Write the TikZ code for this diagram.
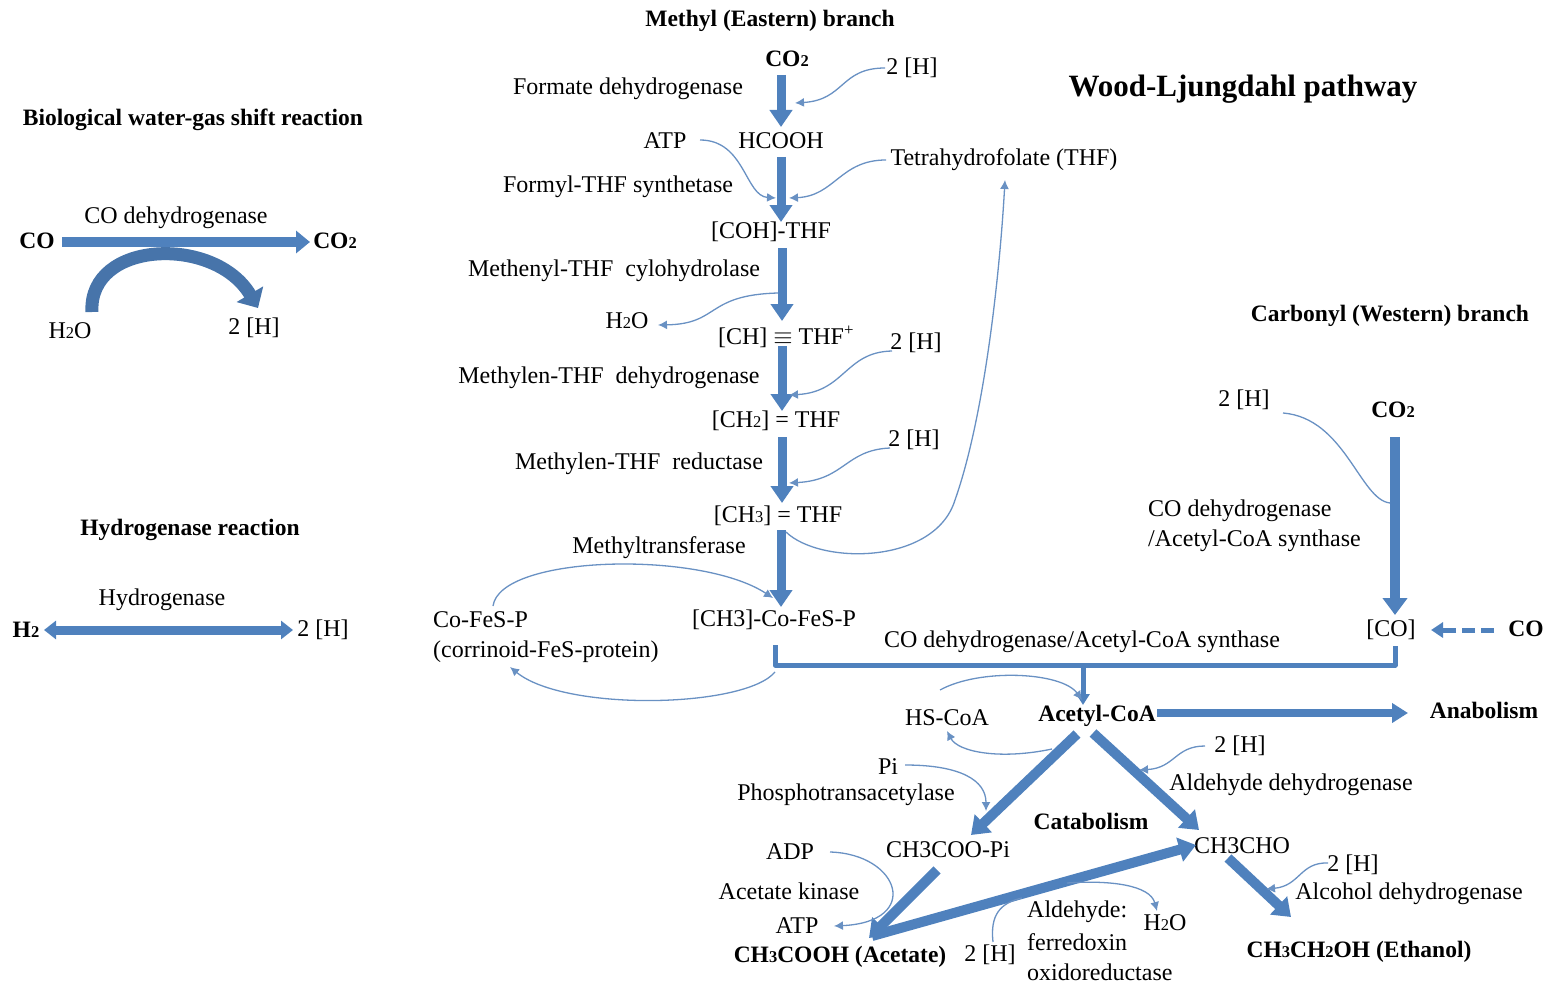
\documentclass[tikz,border=0pt]{standalone}
\usepackage{fontspec}
\setmainfont{Liberation Serif}
\usetikzlibrary{arrows.meta}
\definecolor{wlblue}{RGB}{79,129,189}
\definecolor{thinblue}{RGB}{105,145,195}
\newcommand\lo[1]{{\fontsize{16.5}{16}\selectfont #1}}
\begin{document}
\begin{tikzpicture}[x=1pt,y=-1pt,
  every node/.style={inner sep=0pt, font=\fontsize{24}{28}\selectfont},
  bf/.style={font=\fontsize{23.5}{28}\selectfont\bfseries},
  big/.style={draw=wlblue, line width=9pt, -{Triangle[width=22pt,length=17pt]}},
  bigw/.style={draw=wlblue, line width=10pt, -{Triangle[width=24pt,length=17pt]}},
  thinarr/.style={draw=thinblue, line width=1.3pt, -{Latex[width=9pt,length=9pt]}},
  thinline/.style={draw=thinblue, line width=1.3pt},
 ]
\useasboundingbox (0,0) rectangle (1549,987);

% ---------- left: water-gas shift ----------
\node[bf] (wgs) at (193,120) {Biological water-gas shift reaction};
\node (codh1) at (176,218) {CO dehydrogenase};
\node[bf] (coL) at (37,241) {CO};
\node[bf] (co2L) at (335,241) {CO\lo{2}};
\node (h2oL) at (70,331) {H\lo{2}O};
\node (hL) at (254,328) {2 [H]};
\coordinate (wgsA) at (62,242);
\coordinate (wgsB) at (310,242);
\draw[draw=wlblue, line width=10pt, -{Triangle[width=22pt,length=14pt]}] (wgsA) -- (wgsB);
\coordinate (arcA) at (92,312);
\coordinate (arcB) at (258,308);
\draw[draw=wlblue!90!black, line width=13pt, -{Triangle[width=30pt,length=16pt]}] (arcA) .. controls (88,240) and (215,235) .. (arcB);

% ---------- left: hydrogenase ----------
\node[bf] (hydr) at (190,530) {Hydrogenase reaction};
\node (hydE) at (162,600) {Hydrogenase};
\node[bf] (h2) at (26,630) {H\lo{2}};
\node (hH) at (323,630) {2 [H]};
\coordinate (hA) at (44,630);
\coordinate (hB) at (293,630);
\draw[draw=wlblue, line width=9pt, {Triangle[width=18pt,length=12pt]}-{Triangle[width=18pt,length=12pt]}] (hA) -- (hB);

% ---------- title ----------
\node[font=\fontsize{31}{35}\selectfont\bfseries] (title) at (1243,89) {Wood-Ljungdahl pathway};

% ---------- methyl branch ----------
\node[bf] (mb) at (770,21) {Methyl (Eastern) branch};
\node[bf] (co2m) at (787,59) {CO\lo{2}};
\node (h1) at (912,68) {2 [H]};
\node (fdh) at (628,89) {Formate dehydrogenase};
\node (atp1) at (665,141) {ATP};
\node (hcooh) at (781,141) {HCOOH};
\node (thf) at (1004,160) {Tetrahydrofolate (THF)};
\node (fts) at (618,187) {Formyl-THF synthetase};
\node (cohthf) at (771,232) {[COH]-THF};
\node (mch) at (614,271) {Methenyl-THF~ cylohydrolase};
\node (h2o1) at (627,321) {H\lo{2}O};
\node (chthf) at (786,337) {[CH] $\equiv$ THF\textsuperscript{+}};
\node (h2) at (916,343) {2 [H]};
\node (mtd) at (609,378) {Methylen-THF~ dehydrogenase};
\node (ch2thf) at (776,421) {[CH\lo{2}] = THF};
\node (h3) at (914,440) {2 [H]};
\node (mtr) at (639,464) {Methylen-THF~ reductase};
\node (ch3thf) at (778,516) {[CH\lo{3}] = THF};
\node (mtf) at (659,548) {Methyltransferase};
\node[anchor=west] (cofes) at (433,620) {Co-FeS-P};
\node[anchor=west] (corr) at (433,652) {(corrinoid-FeS-protein)};
\node (ch3co) at (774,620) {[CH3]-Co-FeS-P};
\node (codhacs) at (1082,642) {CO dehydrogenase/Acetyl-CoA synthase};

\coordinate (m1a) at (781,75);  \coordinate (m1b) at (781,127);
\coordinate (m2a) at (781,157); \coordinate (m2b) at (781,222);
\coordinate (m3a) at (782,248); \coordinate (m3b) at (782,321);
\coordinate (m4a) at (782,346); \coordinate (m4b) at (782,411);
\coordinate (m5a) at (782,437); \coordinate (m5b) at (782,503);
\coordinate (m6a) at (781,530); \coordinate (m6b) at (781,607);
\foreach \i in {1,...,6} {\draw[big] (m\i a) -- (m\i b);}

\coordinate (t1s) at (885,68);   \coordinate (t1) at (795,103);
\draw[thinarr] (t1s) .. controls (840,68) and (845,100) .. (t1);
\coordinate (t2s) at (700,140);  \coordinate (t2) at (776,198);
\draw[thinarr] (t2s) .. controls (745,140) and (745,196) .. (t2);
\coordinate (t3s) at (886,160);  \coordinate (t3) at (789,198);
\draw[thinarr] (t3s) .. controls (840,160) and (835,196) .. (t3);
\coordinate (t4s) at (778,293);  \coordinate (t4) at (658,325);
\draw[thinarr] (t4s) .. controls (705,295) and (720,324) .. (t4);
\coordinate (t5s) at (892,351);  \coordinate (t5) at (789,395);
\draw[thinarr] (t5s) .. controls (845,352) and (845,392) .. (t5);
\coordinate (t6s) at (890,448);  \coordinate (t6) at (789,483);
\draw[thinarr] (t6s) .. controls (845,450) and (845,480) .. (t6);
\coordinate (thfret) at (786,532);
\coordinate (thftop) at (1005,180);
\draw[thinarr] (thfret) .. controls (820,565) and (935,565) .. (955,500) .. controls (985,415) and (1000,270) .. (thftop);
\coordinate (cyc1) at (493,606);
\coordinate (cyc2) at (773,598);
\draw[thinarr] (cyc1) .. controls (500,555) and (700,550) .. (cyc2);
\coordinate (cyc3) at (775,672);
\coordinate (cyc4) at (510,667);
\draw[thinarr] (cyc3) .. controls (745,708) and (565,712) .. (cyc4);

% ---------- carbonyl branch ----------
\node[bf] (cb) at (1390,316) {Carbonyl (Western) branch};
\node (h4) at (1244,400) {2 [H]};
\node[bf] (co2c) at (1393,410) {CO\lo{2}};
\node[anchor=west] (codh2) at (1148,511) {CO dehydrogenase};
\node[anchor=west] (acs2) at (1148,541) {/Acetyl-CoA synthase};
\node (coB) at (1391,630) {[CO]};
\node[bf] (coR) at (1526,629) {CO};
\coordinate (c1a) at (1395,437); \coordinate (c1b) at (1395,615);
\draw[bigw] (c1a) -- (c1b);
\coordinate (c2s) at (1283,413); \coordinate (c2) at (1390,503);
\draw[thinline] (c2s) .. controls (1345,418) and (1360,500) .. (c2);
\coordinate (dA) at (1494,630); \coordinate (dB) at (1431,630);
\draw[draw=wlblue, line width=5pt, dash pattern=on 13pt off 6pt, -{Triangle[width=15pt,length=12pt]}] (dA) -- (dB);

% joining line
\coordinate (j1) at (775,645); \coordinate (j2) at (775,665);
\coordinate (j3) at (1395,665); \coordinate (j4) at (1395,646);
\draw[draw=wlblue, line width=5pt, line join=round] (j1) -- (j2) -- (j3) -- (j4);
\coordinate (j5) at (1083,665); \coordinate (j6) at (1083,705);
\draw[draw=wlblue, line width=5pt, -{Triangle[width=13pt,length=11pt]}] (j5) -- (j6);

% ---------- bottom ----------
\node[bf] (acoa) at (1097,716) {Acetyl-CoA};
\node[bf] (anab) at (1484,710) {Anabolism};
\node (hscoa) at (947,718) {HS-CoA};
\node (pi) at (888,767) {Pi};
\node (pta) at (846,795) {Phosphotransacetylase};
\node[bf] (catab) at (1091,821) {Catabolism};
\node (h5) at (1240,746) {2 [H]};
\node (aldh) at (1291,785) {Aldehyde dehydrogenase};
\node (acp) at (948,850) {CH3COO-Pi};
\node (ald) at (1242,846) {CH3CHO};
\node (adp) at (790,852) {ADP};
\node (ak) at (789,891) {Acetate kinase};
\node (atp2) at (797,926) {ATP};
\node[bf] (acet) at (840,957) {CH\lo{3}COOH (Acetate)};
\node (h6) at (990,955) {2 [H]};
\node[anchor=west] (afo1) at (1027,912) {Aldehyde:};
\node[anchor=west] (afo2) at (1027,942) {ferredoxin};
\node[anchor=west] (afo3) at (1027,972) {oxidoreductase};
\node (h2o2) at (1165,923) {H\lo{2}O};
\node (h7) at (1353,865) {2 [H]};
\node (adh) at (1409,894) {Alcohol dehydrogenase};
\node[bf] (eth) at (1359,952) {CH\lo{3}CH\lo{2}OH (Ethanol)};

\coordinate (an1) at (1157,713); \coordinate (an2) at (1408,713);
\draw[draw=wlblue, line width=8pt, -{Triangle[width=19pt,length=16pt]}] (an1) -- (an2);
\coordinate (b1a) at (1077,734); \coordinate (b1b) at (971,835);
\draw[bigw] (b1a) -- (b1b);
\coordinate (b2a) at (1093,733); \coordinate (b2b) at (1199,830);
\draw[bigw] (b2a) -- (b2b);
\coordinate (b3a) at (937,870); \coordinate (b3b) at (869,938);
\draw[bigw] (b3a) -- (b3b);
\coordinate (b4a) at (872,936); \coordinate (b4b) at (1196,845);
\draw[bigw] (b4a) -- (b4b);
\coordinate (b5a) at (1228,858); \coordinate (b5b) at (1291,917);
\draw[bigw] (b5a) -- (b5b);

\coordinate (hs1) at (940,690); \coordinate (hs2) at (1082,700);
\draw[thinarr] (hs1) .. controls (980,668) and (1062,672) .. (hs2);
\coordinate (hs3) at (1052,749); \coordinate (hs4) at (947,731);
\draw[thinarr] (hs3) .. controls (1000,760) and (958,752) .. (hs4);
\coordinate (pi1) at (905,765); \coordinate (pi2) at (986,811);
\draw[thinarr] (pi1) .. controls (960,765) and (986,780) .. (pi2);
\coordinate (h5s) at (1205,746); \coordinate (h5e) at (1139,770);
\draw[thinarr] (h5s) .. controls (1175,746) and (1175,768) .. (h5e);
\coordinate (adps) at (830,852); \coordinate (adpe) at (834,926);
\draw[thinarr] (adps) .. controls (900,854) and (922,922) .. (adpe);
\coordinate (h6s) at (993,942); \coordinate (h6e) at (1022,898);
\draw[thinline] (h6s) .. controls (990,915) and (1000,903) .. (h6e);
\coordinate (h2s) at (1067,883); \coordinate (h2e) at (1157,911);
\draw[thinarr] (h2s) .. controls (1110,880) and (1150,885) .. (h2e);
\coordinate (h7s) at (1328,863); \coordinate (h7e) at (1266,889);
\draw[thinarr] (h7s) .. controls (1300,862) and (1300,886) .. (h7e);
\end{tikzpicture}
\end{document}
